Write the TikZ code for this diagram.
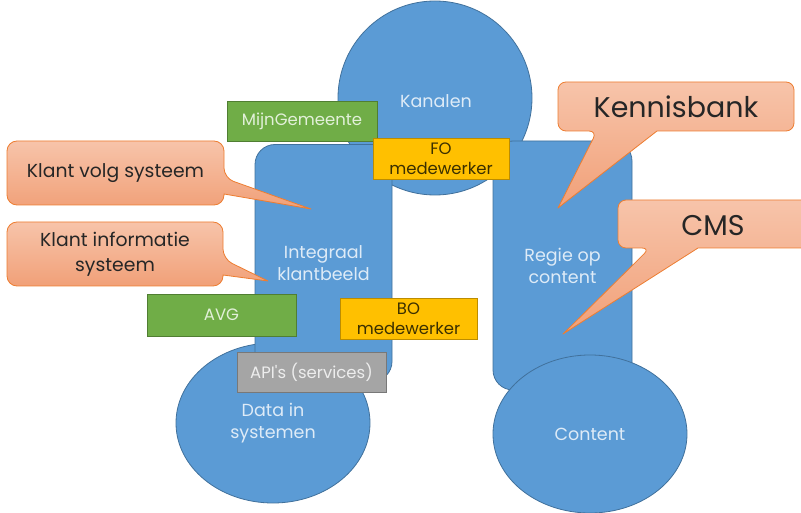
\documentclass[tikz,border=0pt]{standalone}
\usepackage{fontspec}
\setmainfont{Poppins}
\newfontfamily\plainfont{Poppins}
\usetikzlibrary{shapes.geometric}
\definecolor{bluefill}{RGB}{91,155,213}
\definecolor{blueline}{RGB}{65,113,156}
\definecolor{bluetext}{RGB}{222,235,247}
\definecolor{greenfill}{RGB}{112,173,71}
\definecolor{greenline}{RGB}{80,126,50}
\definecolor{greentext}{RGB}{226,240,217}
\definecolor{goldfill}{RGB}{255,192,0}
\definecolor{goldline}{RGB}{188,140,0}
\definecolor{goldtext}{RGB}{59,48,0}
\definecolor{grayfill}{RGB}{165,165,165}
\definecolor{grayline}{RGB}{120,120,120}
\definecolor{graytext}{RGB}{237,237,237}
\definecolor{calltop}{RGB}{247,196,170}
\definecolor{callbot}{RGB}{241,160,120}
\definecolor{callline}{RGB}{237,125,49}
\definecolor{calltext}{RGB}{38,38,38}
\begin{document}
\begin{tikzpicture}[x=1pt,y=-1pt,
  blueshape/.style={fill=bluefill,draw=blueline,line width=0.8pt,text=bluetext,align=center,
    font=\fontsize{17.5}{22}\selectfont,inner sep=0pt},
  tag/.style={line width=0.8pt,align=center,inner sep=0pt,font=\fontsize{16.5}{20}\selectfont},
  greentag/.style={tag,fill=greenfill,draw=greenline,text=greentext},
  goldtag/.style={tag,fill=goldfill,draw=goldline,text=goldtext},
  graytag/.style={tag,fill=grayfill,draw=grayline,text=graytext},
  callout/.style={top color=calltop,bottom color=callbot,draw=callline,line width=0.8pt,line join=round},
  calltxt/.style={text=calltext,align=center,inner sep=0pt},
]
\useasboundingbox (0,0) rectangle (801,513);

% main blue shapes
\node[blueshape,circle,minimum size=194pt] (kanalen) at (435,98) {};
\node[text=bluetext,font=\fontsize{17.5}{22}\selectfont] (kanalentxt) at (436,101) {Kanalen};

\node[blueshape,ellipse,minimum width=194pt,minimum height=160pt] (data) at (273,423) {Data in\\systemen};

\node[blueshape,rectangle,rounded corners=20pt,minimum width=137pt,minimum height=237pt] (integraal) at (323.5,263) {Integraal\\klantbeeld};

\node[blueshape,rectangle,rounded corners=20pt,minimum width=139pt,minimum height=249pt] (regie) at (562.5,265.5) {Regie op\\content};

\node[blueshape,ellipse,minimum width=194pt,minimum height=158pt] (content) at (590,434) {Content};

% tags
\node[greentag,minimum width=150pt,minimum height=40pt] (mijn) at (302,121) {MijnGemeente};
\node[goldtag,minimum width=136pt,minimum height=41pt] (fo) at (441,158.5) {FO\\medewerker};
\node[greentag,minimum width=149pt,minimum height=42pt] (avg) at (221.5,315) {AVG};
\node[goldtag,minimum width=137pt,minimum height=41pt] (bo) at (408.5,318.5) {BO\\medewerker};
\node[graytag,minimum width=149pt,minimum height=40pt] (api) at (311.5,372) {\plainfont API's (services)};

% callouts
\path[callout] (224,194) [rounded corners=10pt] -- (224,205) -- (7,205) -- (7,141) -- (224,141) -- (224,178) [sharp corners] -- (311,209) -- cycle;
\node[calltxt,font=\fontsize{18.8}{24}\selectfont] (kvs) at (115.5,173) {Klant volg systeem};

\path[callout] (223,275) [rounded corners=10pt] -- (223,286) -- (7,286) -- (7,222) -- (223,222) -- (223,259) [sharp corners] -- (268,281) -- cycle;
\node[calltxt,font=\fontsize{18.8}{25}\selectfont] (kis) at (115,254) {Klant informatie\\systeem};

\path[callout] (657,131) [rounded corners=8pt] -- (794,131) -- (794,82) -- (558,82) -- (558,131) -- (597,131) [sharp corners] -- (558,208) -- cycle;
\node[calltxt,font=\fontsize{28.5}{32}\selectfont] (kb) at (676,106.5) {Kennisbank};

\path[callout] (698,248) [rounded corners=8pt] -- (810,248) -- (810,200) -- (618,200) -- (618,248) -- (650,248) [sharp corners] -- (563,334) -- cycle;
\node[calltxt,font=\fontsize{28.5}{32}\selectfont] (cms) at (713,226) {CMS};
\end{tikzpicture}
\end{document}
